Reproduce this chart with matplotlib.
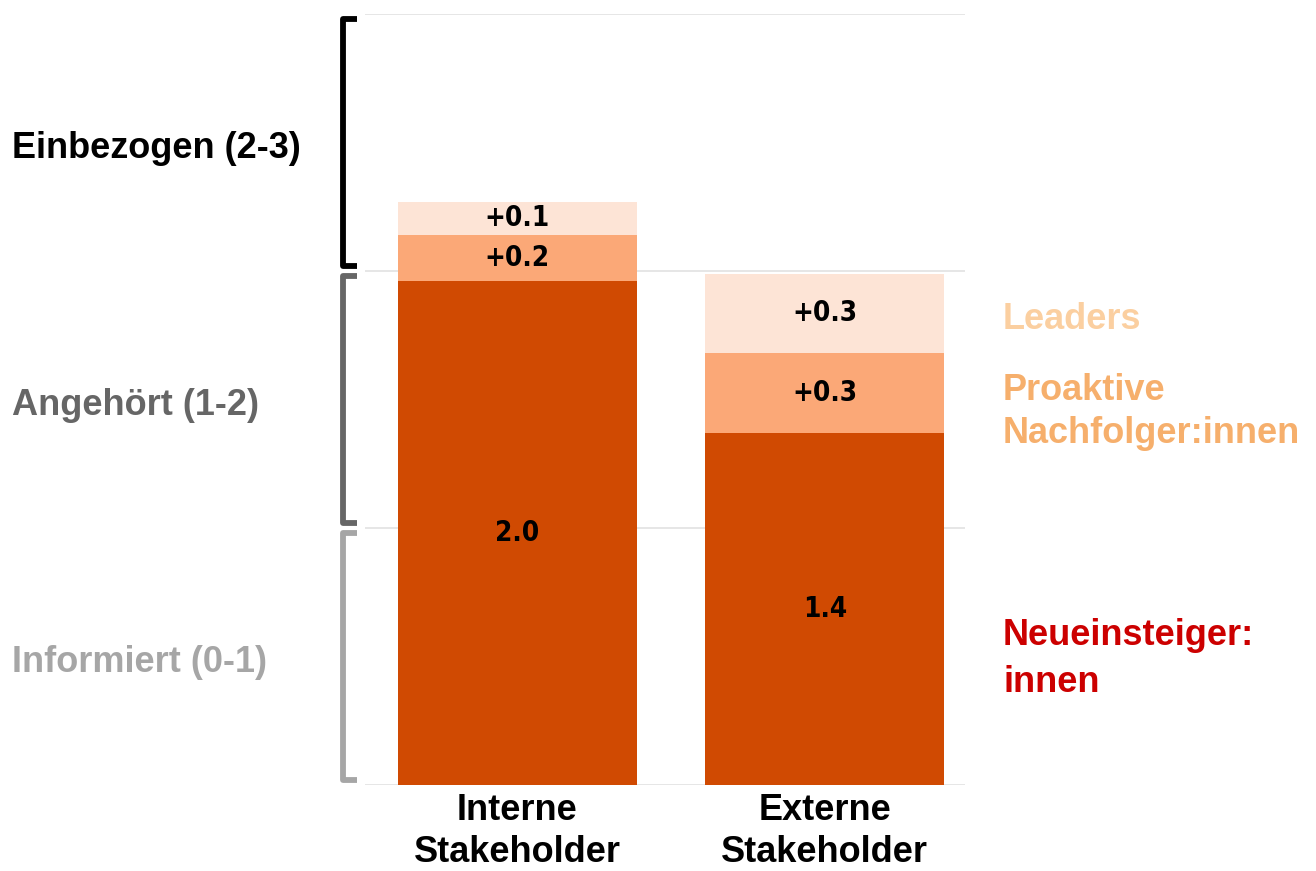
import matplotlib
matplotlib.use("Agg")
import matplotlib.pyplot as plt
import matplotlib.transforms as mtransforms
import numpy as np

# stacked score per stakeholder group
groups = ["Interne\nStakeholder", "Externe\nStakeholder"]
neueinsteiger = [1.96, 1.37]
proaktive = [0.18, 0.31]
leaders = [0.13, 0.31]

levels = ["Informiert (0-1)", "Angehört (1-2)", "Einbezogen (2-3)"]
level_colors = ["#a6a6a6", "#666666", "#000000"]

seg_colors = ["#d04a02", "#fba877", "#fde4d6"]
legend_names = ["Neueinsteiger:\ninnen", "Proaktive\nNachfolger:innen", "Leaders"]
legend_colors = ["#cc0000", "#f6af6c", "#fbcfa0"]
legend_y = [0.49, 1.45, 1.81]

plt.rcParams["font.family"] = ["Liberation Sans", "DejaVu Sans"]

fig = plt.figure(figsize=(13.16, 8.71), dpi=100)
ax = fig.add_axes([365 / 1316, 86 / 871, 600 / 1316, 771 / 871])

x = np.arange(len(groups))
w = 0.776
bottom = np.zeros(len(groups))
for vals, col, prefix in zip([neueinsteiger, proaktive, leaders], seg_colors, ["", "+", "+"]):
    vals = np.array(vals)
    ax.bar(x, vals, w, bottom=bottom, color=col, zorder=2)
    for xi, b, v in zip(x, bottom, vals):
        ax.text(xi, b + v / 2, f"{prefix}{v:.1f}", ha="center", va="center",
                fontsize=20, fontweight="heavy", family="DejaVu Sans",
                fontstretch="condensed", color="black", zorder=3)
    bottom += vals

ax.set_xlim(-0.495, 1.456)
ax.set_ylim(0, 3)
for yv in range(4):
    ax.axhline(yv, color="#e2e2e2", lw=1.2, zorder=1)
for s in ax.spines.values():
    s.set_visible(False)
ax.set_yticks([])
ax.set_xticks(x)
ax.set_xticklabels(groups, fontsize=26, fontweight="bold", linespacing=1.25)
ax.tick_params(axis="x", length=0, pad=6)

# level brackets on the left
tr = mtransforms.blended_transform_factory(fig.transFigure, ax.transData)
xv, xh = 343 / 1316, 357 / 1316
for i, (lab, col) in enumerate(zip(levels, level_colors)):
    y0, y1 = i + 0.02, i + 0.98
    ax.plot([xh, xv, xv, xh], [y0, y0, y1, y1], transform=tr, color=col,
            lw=4.2, solid_joinstyle="round", solid_capstyle="butt", clip_on=False)
    ax.text(12 / 1316, i + 0.475, lab, transform=tr, ha="left", va="center",
            fontsize=26, fontweight="bold", color=col)

# series names on the right
for name, col, yv, ls in zip(legend_names, legend_colors, legend_y, [1.45, 1.3, 1.3]):
    ax.text(1003 / 1316, yv, name, transform=tr, ha="left", va="center",
            fontsize=26, fontweight="bold", color=col, linespacing=ls)

fig.savefig("out.png", dpi=100)
